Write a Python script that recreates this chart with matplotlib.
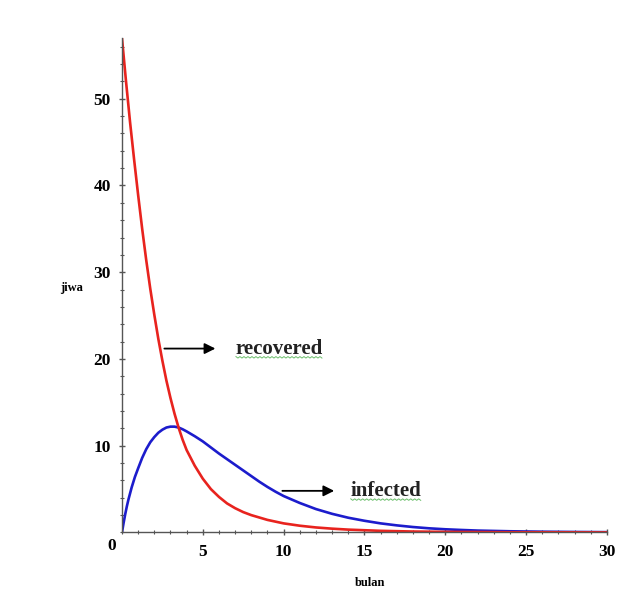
import matplotlib.pyplot as plt
from matplotlib.ticker import MultipleLocator, FixedLocator

# values (bulan vs jiwa)
t_rec = [0, 0.25, 0.5, 0.75, 1.0, 1.25, 1.5, 1.75, 2.0, 2.25, 2.5, 2.75, 3.0, 3.25, 3.5,
         3.75, 4.0, 4.5, 5.0, 5.5, 6.0, 6.5, 7.0, 7.5, 8.0, 9.0, 10.0, 11.0, 12.0, 13.0,
         14.0, 16.0, 18.0, 20.0, 24.0, 30.0]
recovered = [57.0, 52.0, 47.3, 43.0, 38.9, 35.0, 31.4, 28.1, 25.1, 22.3, 19.8, 17.5, 15.5, 13.7, 12.1,
             10.7, 9.5, 7.7, 6.2, 5.0, 4.1, 3.35, 2.8, 2.35, 2.0, 1.45, 1.05, 0.78, 0.58, 0.44,
             0.33, 0.19, 0.11, 0.07, 0.03, 0.01]

t_inf = [0, 0.1, 0.2, 0.3, 0.4, 0.6, 0.8, 1.0, 1.25, 1.5, 1.75, 2.0, 2.25, 2.5, 2.75, 3.0,
         3.25, 3.5, 3.75, 4.0, 4.5, 5.0, 5.5, 6.0, 6.5, 7.0, 7.5, 8.0, 8.5, 9.0, 9.5, 10.0,
         10.5, 11.0, 12.0, 13.0, 14.0, 15.0, 16.0, 17.0, 18.0, 19.0, 20.0, 21.0, 22.0,
         24.0, 26.0, 28.0, 30.0]
infected = [0, 1.1, 2.1, 3.0, 3.8, 5.2, 6.4, 7.4, 8.6, 9.6, 10.4, 11.0, 11.5, 11.85, 12.1, 12.2,
            12.2, 12.1, 11.9, 11.65, 11.1, 10.5, 9.8, 9.1, 8.45, 7.8, 7.15, 6.5, 5.85, 5.25, 4.7, 4.2,
            3.8, 3.4, 2.7, 2.15, 1.7, 1.35, 1.05, 0.82, 0.63, 0.48, 0.37, 0.29, 0.22,
            0.14, 0.09, 0.06, 0.04]

x_ticks = [5, 10, 15, 20, 25, 30]
y_ticks = [10, 20, 30, 40, 50]

fig = plt.figure(figsize=(6.31, 6.04), dpi=100)
ax = fig.add_axes([0.1933, 0.1184, 0.7686, 0.8187])

ax.plot(t_inf, infected, color='#1c1ccc', lw=1.9, solid_capstyle='round', solid_joinstyle='round')
ax.plot(t_rec, recovered, color='#e8231e', lw=1.9, solid_capstyle='round', solid_joinstyle='round')

ax.set_xlim(0, 30)
ax.set_ylim(0, 57)

for s in ['top', 'right']:
    ax.spines[s].set_visible(False)
for s in ['left', 'bottom']:
    ax.spines[s].set_color('#555555')
    ax.spines[s].set_linewidth(1.0)

ax.xaxis.set_major_locator(FixedLocator(x_ticks))
ax.yaxis.set_major_locator(FixedLocator(y_ticks))
ax.xaxis.set_minor_locator(MultipleLocator(1))
ax.yaxis.set_minor_locator(MultipleLocator(2))
ax.tick_params(which='major', length=4, width=1, color='#555555', direction='inout',
               labelsize=12.5, pad=6)
ax.tick_params(which='minor', length=3, width=0.8, color='#555555', direction='inout')
for lab in ax.get_xticklabels() + ax.get_yticklabels():
    lab.set_fontfamily('Liberation Serif')
    lab.set_fontweight('bold')

ax.text(-0.012, -0.012, '0', transform=ax.transAxes, ha='right', va='top',
        fontsize=12.5, fontweight='bold', family='Liberation Serif')

fig.text(72 / 631, 1 - 288 / 604, 'jiwa', ha='center', va='center',
         fontsize=9, fontweight='bold', family='Liberation Serif')
fig.text(370 / 631, 1 - 583 / 604, 'bulan', ha='center', va='center',
         fontsize=9, fontweight='bold', family='Liberation Serif')

arrow = dict(arrowstyle='-|>', color='black', lw=1.3, mutation_scale=16)
ax.annotate('', xy=(5.95, 21.2), xytext=(2.45, 21.2), arrowprops=arrow)
ax.annotate('', xy=(13.3, 4.8), xytext=(9.75, 4.8), arrowprops=arrow)
lbl_rec = ax.text(7.05, 21.2, 'recovered', ha='left', va='center', fontsize=15,
                  fontweight='bold', family='Liberation Serif', color='#222222')
lbl_inf = ax.text(14.15, 4.8, 'infected', ha='left', va='center', fontsize=15,
                  fontweight='bold', family='Liberation Serif', color='#222222')

# green spell-check squiggle under the two labels
fig.canvas.draw()
for lbl in [lbl_rec, lbl_inf]:
    bb = lbl.get_window_extent()
    xs, ys = [], []
    x = bb.x0
    i = 0
    while x <= bb.x1:
        xs.append(x / fig.bbox.width)
        ys.append((bb.y0 + (0.5 if i % 2 else 2.0)) / fig.bbox.height)
        x += 2.0
        i += 1
    fig.add_artist(plt.Line2D(xs, ys, color='#6cbf6c', lw=0.7))

fig.savefig('out.png', dpi=100)
